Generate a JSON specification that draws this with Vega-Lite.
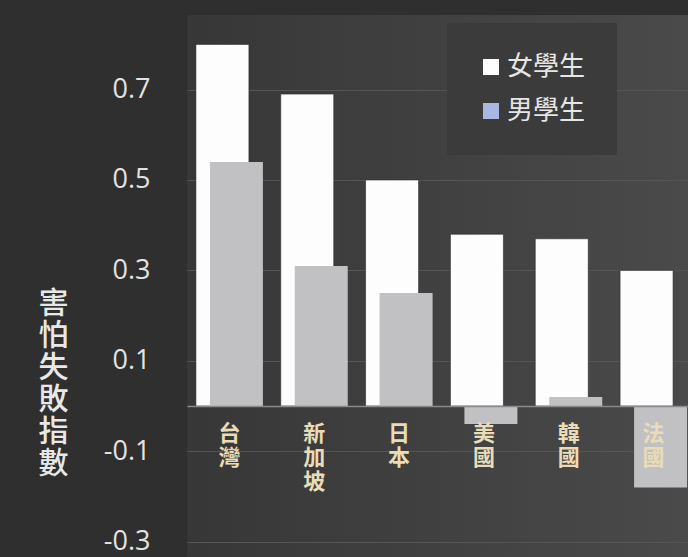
{
  "$schema": "https://vega.github.io/schema/vega-lite/v6.json",
  "width": 501,
  "height": 542,
  "autosize": {"type": "none"},
  "padding": {"left": 187, "top": 15, "right": 0, "bottom": 0},
  "background": "#2f2f2f",
  "config": {
    "view": {"stroke": null, "fill": {"gradient": "linear", "x1": 0, "x2": 1, "y1": 0, "y2": 0, "stops": [{"offset": 0, "color": "#373737"}, {"offset": 1, "color": "#4a4a4a"}]}},
    "font": "Noto Sans CJK TC"
  },
  "data": {
    "values": [
      {"country": "台灣", "sex": "女學生", "value": 0.80},
      {"country": "新加坡", "sex": "女學生", "value": 0.69},
      {"country": "日本", "sex": "女學生", "value": 0.50},
      {"country": "美國", "sex": "女學生", "value": 0.38},
      {"country": "韓國", "sex": "女學生", "value": 0.37},
      {"country": "法國", "sex": "女學生", "value": 0.30},
      {"country": "台灣", "sex": "男學生", "value": 0.54},
      {"country": "新加坡", "sex": "男學生", "value": 0.31},
      {"country": "日本", "sex": "男學生", "value": 0.25},
      {"country": "美國", "sex": "男學生", "value": -0.04},
      {"country": "韓國", "sex": "男學生", "value": 0.02},
      {"country": "法國", "sex": "男學生", "value": -0.18}
    ]
  },
  "encoding": {
    "x": {
      "field": "country", "type": "nominal", "sort": null,
      "scale": {"range": [0, 509], "paddingInner": 0, "paddingOuter": 0},
      "axis": {
        "title": null, "orient": "bottom", "offset": -151, "ticks": false,
        "domain": true, "domainColor": "#8a8a8a", "domainWidth": 1.5,
        "labelAngle": 0, "labelExpr": "split(datum.label, '')",
        "labelFontSize": 22, "labelLineHeight": 24, "labelColor": "#eadcb6",
        "labelFontWeight": "bold", "labelPadding": 17, "labelBaseline": "top",
        "zindex": 1, "grid": false
      }
    },
    "y": {
      "field": "value", "type": "quantitative",
      "scale": {"domain": [-0.334, 0.865], "nice": false, "zero": false},
      "axis": {
        "values": [0.7, 0.5, 0.3, 0.1, -0.1, -0.3],
        "labelExpr": "replace(format(datum.value, '.1f'), '−', '-')",
        "grid": true, "gridColor": "#555555", "gridWidth": 1,
        "domain": false, "ticks": false,
        "labelFontSize": 27, "labelColor": "#e2e2e2", "labelPadding": 37,
        "labelFont": "Open Sans",
        "title": ["害", "怕", "失", "敗", "指", "數"],
        "titleAngle": 0, "titleFontSize": 30, "titleLineHeight": 32,
        "titleX": -134, "titleY": 273, "titleBaseline": "top", "titleAlign": "center",
        "titleColor": "#e8e8e8", "titleFontWeight": 500
      }
    }
  },
  "layer": [
    {
      "transform": [{"filter": "datum.sex == '女學生'"}],
      "mark": {"type": "bar", "width": 53, "xOffset": -7, "clip": true, "stroke": "#2a2a2a", "strokeWidth": 0.6},
      "encoding": {
        "color": {
          "field": "sex", "type": "nominal",
          "scale": {"domain": ["女學生", "男學生"], "range": ["#fdfdfd", "#a9b8e0"]},
          "legend": {
            "title": null, "orient": "none", "legendX": 260, "legendY": 8,
            "fillColor": "#3b3b3b", "padding": 31, "labelFontSize": 26,
            "labelColor": "#e6e6e6", "symbolType": "square", "symbolSize": 256,
            "symbolOpacity": 1, "symbolStrokeWidth": 0, "rowPadding": 18,
            "labelOffset": 3, "labelFont": "Noto Sans CJK TC"
          }
        }
      }
    },
    {
      "transform": [{"filter": "datum.sex == '男學生'"}],
      "mark": {"type": "bar", "width": 53, "xOffset": 7, "clip": true, "color": "#c1c1c3"},
      "encoding": {}
    }
  ]
}
